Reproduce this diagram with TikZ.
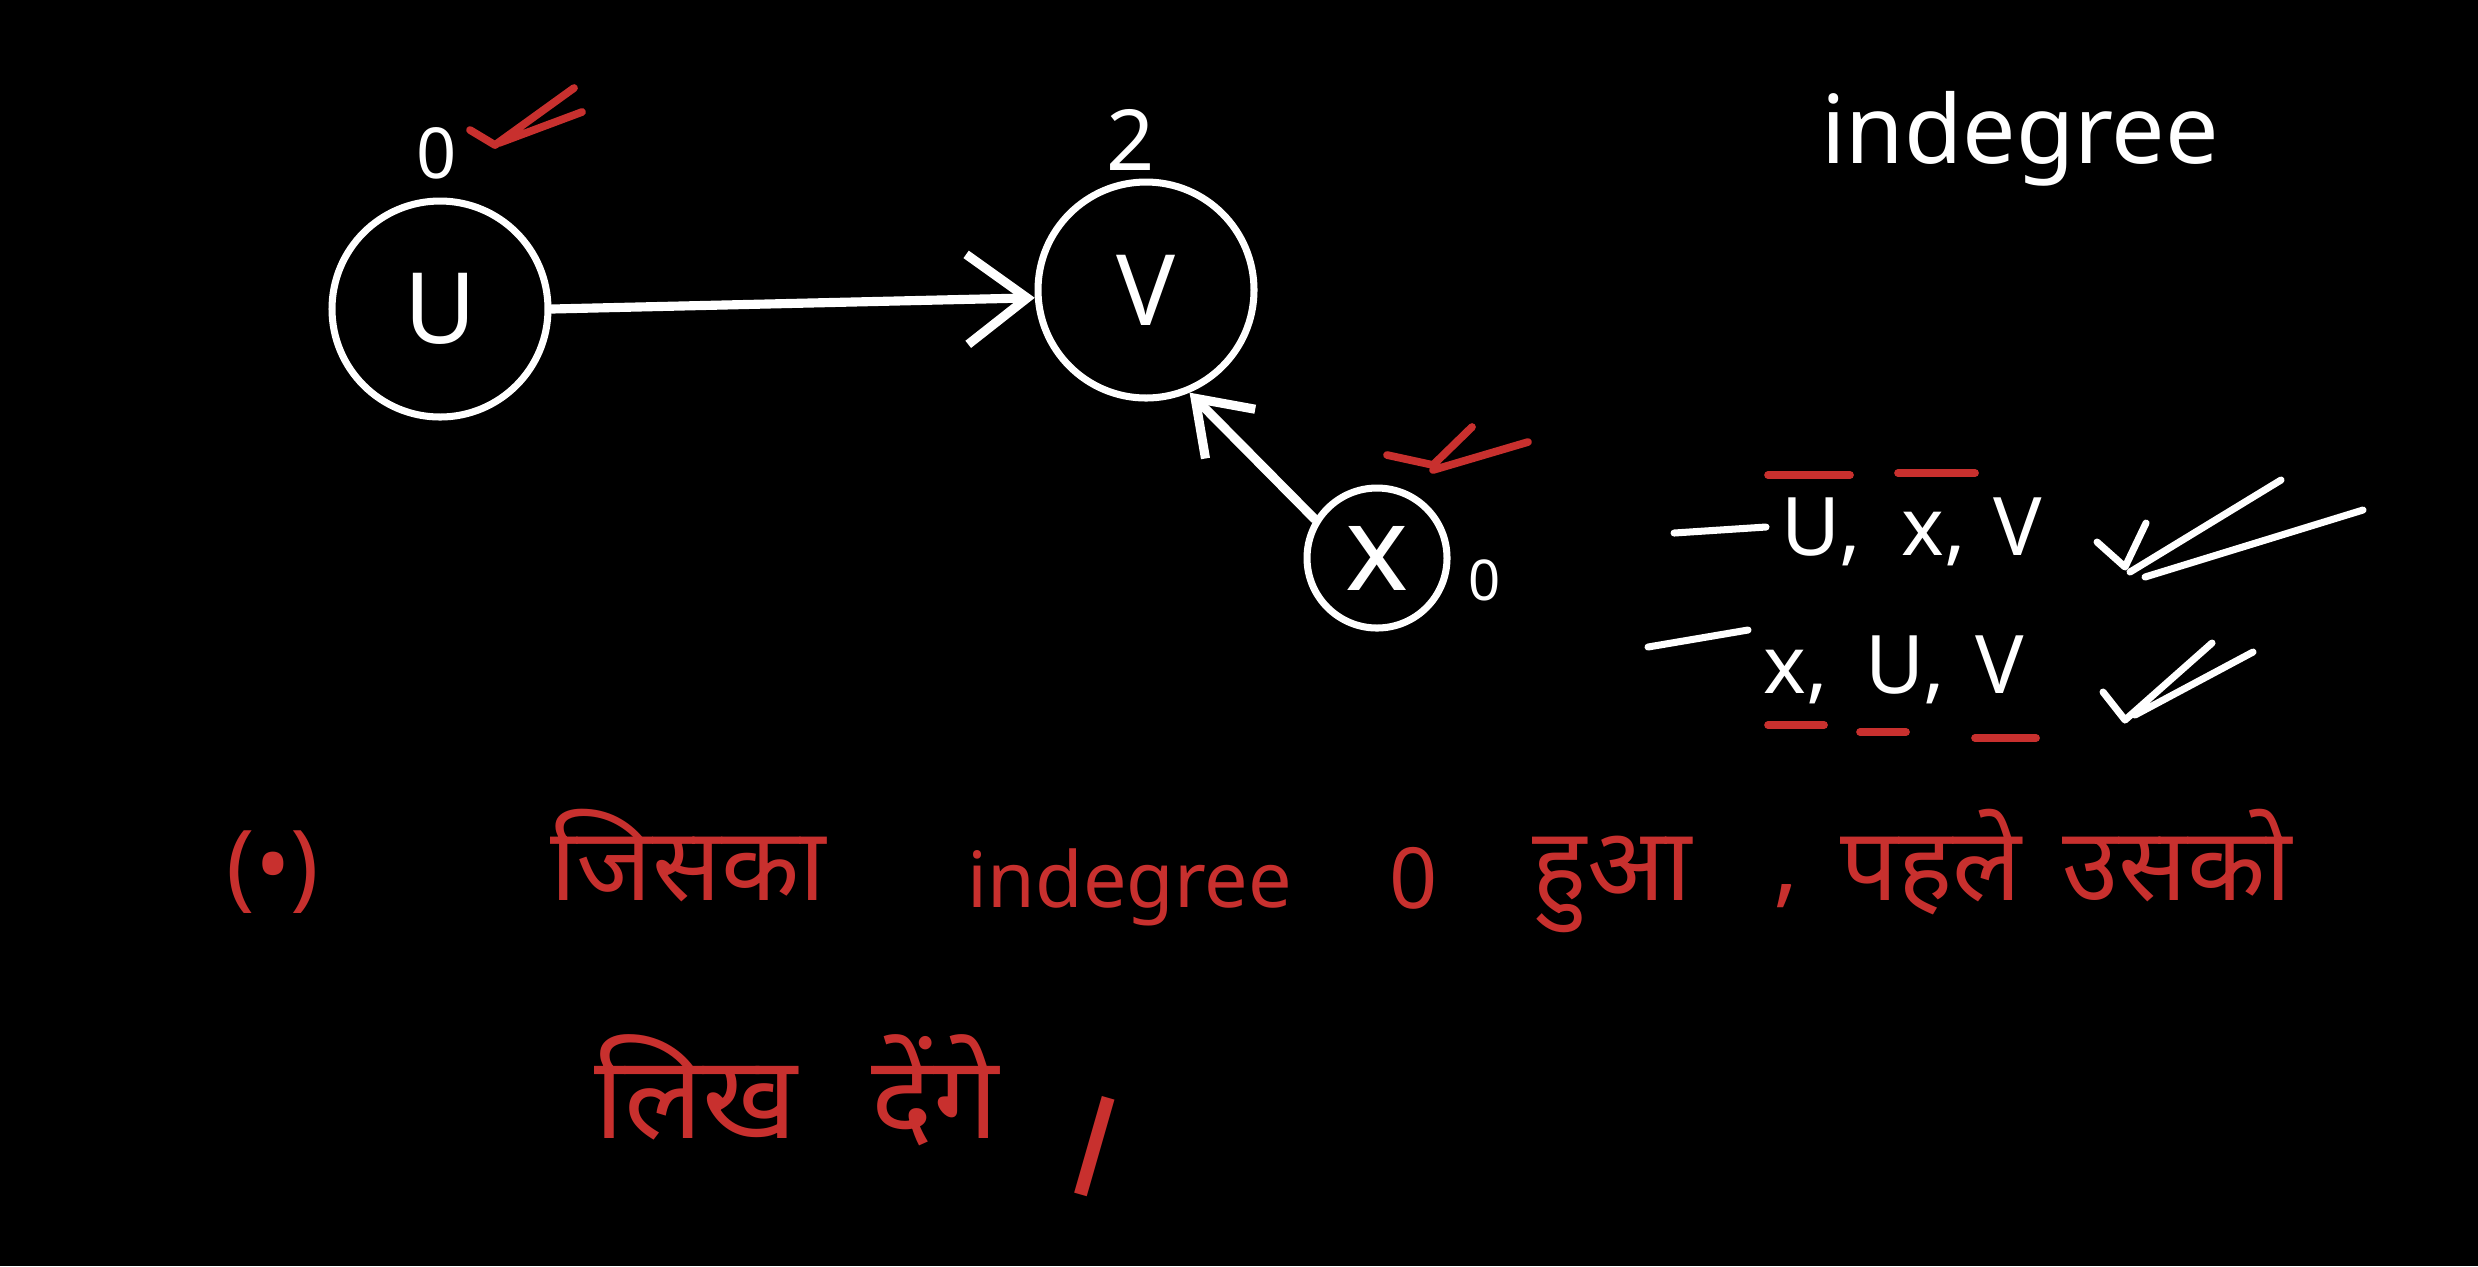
\documentclass[tikz,border=0pt]{standalone}
\usepackage{fontspec}
\setmainfont{Noto Sans}
\newfontfamily\devfont[Script=Devanagari]{Noto Sans}
\usepackage{xcolor}
\usetikzlibrary{arrows.meta}
\definecolor{inkred}{HTML}{C8302E}
\newcommand{\fsz}[1]{\fontsize{#1}{#1}\selectfont}

\begin{document}
\begin{tikzpicture}[x=1cm, y=-1cm,
  vertex/.style={circle, draw=white, line width=2pt, inner sep=0pt,
    minimum size=2.16cm, text=white, font=\fsz{28}},
  chalk/.style={white, line width=2pt, line cap=round, line join=round},
  redink/.style={inkred, line width=2.2pt, line cap=round, line join=round},
  edgearrow/.style={chalk, line width=2.6pt, -{Straight Barb[length=6mm,width=9mm]}},
  wlabel/.style={text=white, inner sep=0pt, anchor=base},
  rlabel/.style={text=inkred, inner sep=0pt, anchor=base},
  devword/.style={rlabel, font=\devfont\fsz{29}}]
  % page
  \fill[black] (0,0) rectangle (24.78,12.66);
  \useasboundingbox (0,0) rectangle (24.78,12.66);

  % graph
  \node[vertex] (U) at (4.40,3.09) {U};
  \node[vertex] (V) at (11.46,2.90) {V};
  \node[vertex, minimum size=1.40cm, font=\bfseries\fsz{34}] (X) at (13.77,5.58) {x};
  \draw[edgearrow] (U.east) -- (V.184);
  \draw[edgearrow, -{Straight Barb[length=5mm,width=7mm]}] (X.148) -- (V.-67);

  % indegree of each vertex
  \node[wlabel, font=\fsz{20}] (degU) at (4.37,1.78) {0};
  \node[wlabel, font=\fsz{24}] (degV) at (11.31,1.70) {2};
  \node[wlabel, font=\fsz{16}] (degX) at (14.85,6.00) {0};
  \draw[redink] (4.70,1.30) -- (4.95,1.45) -- (5.74,0.88) (4.99,1.43) -- (5.82,1.12);
  \draw[redink] (13.87,4.55) -- (14.33,4.65) -- (14.72,4.27) (14.33,4.70) -- (15.28,4.42);

  \node[wlabel, font=\fsz{27}] (title) at (20.20,1.63) {indegree};

  % the two orders
  \draw[chalk] (16.74,5.33) -- (17.66,5.27);
  \node[wlabel, anchor=base west, font=\fsz{23}] (a1) at (17.81,5.55) {U,};
  \node[wlabel, anchor=base west, font=\fsz{23}] (a2) at (19.01,5.55) {x,};
  \node[wlabel, anchor=base west, font=\fsz{23}] (a3) at (19.93,5.55) {V};
  \draw[redink] (17.68,4.75) -- (18.50,4.75) (18.98,4.73) -- (19.75,4.73);
  \draw[chalk] (20.97,5.42) -- (21.25,5.67) -- (21.46,5.23)
    (21.30,5.72) -- (22.81,4.80) (21.45,5.77) -- (23.63,5.10);

  \draw[chalk] (16.48,6.47) -- (17.48,6.30);
  \node[wlabel, anchor=base west, font=\fsz{23}] (b1) at (17.63,6.93) {x,};
  \node[wlabel, anchor=base west, font=\fsz{23}] (b2) at (18.65,6.93) {U,};
  \node[wlabel, anchor=base west, font=\fsz{23}] (b3) at (19.75,6.93) {V};
  \draw[redink] (17.68,7.25) -- (18.24,7.25) (18.60,7.32) -- (19.06,7.32)
    (19.75,7.38) -- (20.36,7.38);
  \draw[chalk] (21.03,6.92) -- (21.25,7.20) -- (22.12,6.43) (21.35,7.15) -- (22.53,6.52);

  % rule in red
  \node[rlabel, font=\fsz{27}] (bullet) at (2.73,8.98) {(•)};
  \node[devword] (w1) at (6.88,9.00) {जिसका};
  \node[rlabel, font=\fsz{22}] (w2) at (11.30,9.07) {indegree};
  \node[rlabel, font=\fsz{24}] (w3) at (14.14,9.08) {0};
  \node[devword] (w4) at (16.12,9.00) {हुआ};
  \node[rlabel, font=\fsz{27}] (w5) at (17.86,8.95) {,};
  \node[devword] (w6) at (19.31,9.00) {पहले};
  \node[devword] (w7) at (21.77,9.00) {उसको};
  \node[devword, font=\devfont\fsz{33}] (w8) at (6.96,11.38) {लिख};
  \node[devword, font=\devfont\fsz{33}] (w9) at (9.35,11.38) {देंगे};
  \node[devword, anchor=center, font=\devfont\fsz{46}, rotate=-16] (w10)
    at (10.88,11.45) {।};
\end{tikzpicture}
\end{document}
